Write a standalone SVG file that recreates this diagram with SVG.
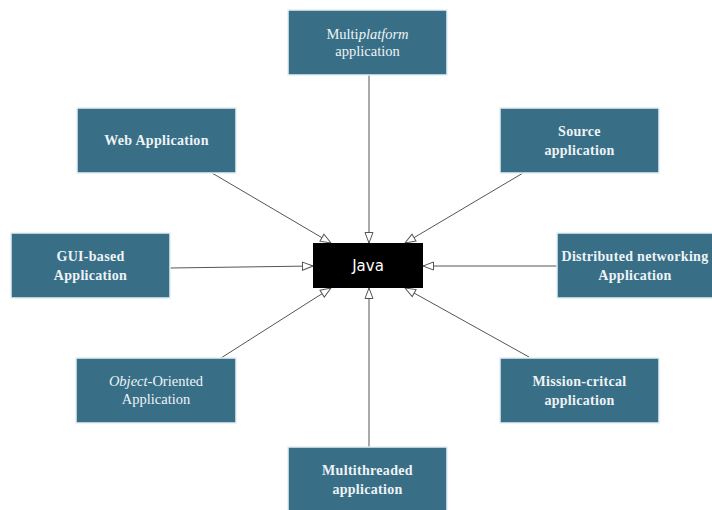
<svg xmlns="http://www.w3.org/2000/svg" width="712" height="510" viewBox="0 0 712 510">
<style>
.box{fill:#386f87;stroke:#e3f0f5;stroke-width:1.5}
.t{font-family:"Liberation Serif","Times New Roman",serif;font-size:14.5px;fill:#eef3f6;text-anchor:middle}
.b{font-weight:bold;font-size:14px;letter-spacing:0.3px}
.java{font-family:"DejaVu Sans",sans-serif;font-size:15px;fill:#ffffff;text-anchor:middle}
.c line{stroke:#555;stroke-width:1;marker-end:url(#ah)}
</style>
<defs>
<marker id="ah" viewBox="0 0 12 10" refX="11.5" refY="5" markerWidth="12" markerHeight="10" markerUnits="userSpaceOnUse" orient="auto">
<path d="M1,1 L11.5,5 L1,9 Z" fill="#fff" stroke="#555" stroke-width="1"/>
</marker>
</defs>
<rect width="712" height="510" fill="#fff"/>
<g class="c" id="connectors">
<line x1="369" y1="75" x2="369" y2="243"/>
<line x1="369" y1="447" x2="369" y2="288"/>
<line x1="212" y1="173" x2="331" y2="243"/>
<line x1="523" y1="173" x2="405" y2="243"/>
<line x1="170" y1="268" x2="313" y2="266"/>
<line x1="557" y1="266" x2="423" y2="266"/>
<line x1="221" y1="358" x2="331" y2="288"/>
<line x1="529" y1="357" x2="405" y2="288"/>
</g>
<g id="java">
<rect x="313" y="243" width="110" height="45" fill="#000"/>
<text class="java" x="368" y="271">Java</text>
</g>
<g id="multiplatform">
<rect class="box" x="288" y="10" width="159" height="65"/>
<text class="t" x="367.5" y="39">Multi<tspan font-style="italic">platform</tspan></text>
<text class="t" x="367.5" y="56">application</text>
</g>
<g id="web">
<rect class="box" x="77" y="108" width="159" height="65"/>
<text class="t b" x="156.5" y="145">Web Application</text>
</g>
<g id="source">
<rect class="box" x="500" y="108" width="159" height="65"/>
<text class="t b" x="579.5" y="136">Source</text>
<text class="t b" x="579.5" y="155">application</text>
</g>
<g id="gui">
<rect class="box" x="11" y="233" width="159" height="65"/>
<text class="t b" x="90.5" y="261">GUI-based</text>
<text class="t b" x="90.5" y="280">Application</text>
</g>
<g id="distributed">
<rect class="box" x="557" y="233" width="158" height="65"/>
<text class="t b" x="635" y="261">Distributed networking</text>
<text class="t b" x="635" y="280">Application</text>
</g>
<g id="object">
<rect class="box" x="76" y="358" width="160" height="65"/>
<text class="t" x="156" y="386"><tspan font-style="italic">Object</tspan>-Oriented</text>
<text class="t" x="156" y="404">Application</text>
</g>
<g id="mission">
<rect class="box" x="500" y="358" width="159" height="65"/>
<text class="t b" x="579.5" y="386">Mission-critcal</text>
<text class="t b" x="579.5" y="405">application</text>
</g>
<g id="multithreaded">
<rect class="box" x="288" y="447" width="159" height="66"/>
<text class="t b" x="367.5" y="475">Multithreaded</text>
<text class="t b" x="367.5" y="494">application</text>
</g>
</svg>
